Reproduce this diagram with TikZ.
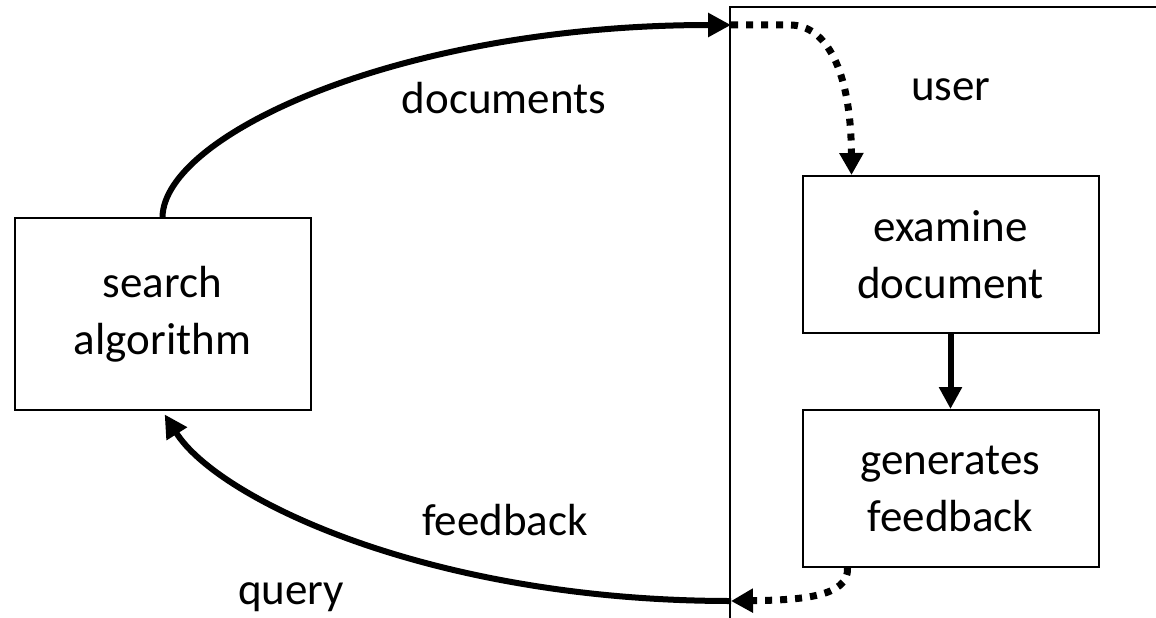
\documentclass[tikz,border=0pt]{standalone}
\usepackage{fontspec}
\setmainfont{Carlito}
\usetikzlibrary{arrows.meta}
\begin{document}
\begin{tikzpicture}[x=1pt,y=-1pt,
  box/.style={draw,line width=2pt,rectangle,minimum width=296pt,align=center,
    font=\fontsize{45}{57}\selectfont},
  lbl/.style={anchor=base,inner sep=0pt,font=\fontsize{45}{57}\selectfont},
  flow/.style={line width=6pt,-{Triangle[length=23pt,width=23pt]}},
  dotflow/.style={line width=7pt,dash pattern=on 7pt off 8pt,-{Triangle[length=22pt,width=23pt]}},
  frame/.style={line width=2pt}]
\useasboundingbox (0,0) rectangle (1156,618);
% user frame
\coordinate (fb) at (730,620);
\coordinate (ftl) at (730,7);
\coordinate (fr) at (1160,7);
\draw[frame] (fb) -- (ftl) -- (fr);
% boxes
\node[box,minimum height=192pt] (search) at (162.5,314) {search\\algorithm};
\node[box,minimum height=157pt] (examine) at (950.5,254.5) {examine\\document};
\node[box,minimum height=157pt] (generate) at (950.5,488.5) {generates\\feedback};
% labels
\node[lbl] (ldoc) at (504,113) {documents};
\node[lbl] (luser) at (951,100) {user};
\node[lbl] (lfb) at (505,535) {feedback};
\node[lbl] (lq) at (291,604) {query};
% connection points on the frame
\coordinate (docin) at (731,25);
\coordinate (qout) at (731,601);
\coordinate (exin) at ([xshift=-99pt]examine.north);
\coordinate (genout) at ([xshift=-103pt]generate.south);
% arrows
\draw[flow] (search.north) .. controls (164,135) and (400,25) .. (docin);
\draw[flow,shorten >=4pt] (qout) .. controls (430,601) and (218,499) .. (search.south);
\draw[dotflow] (docin) -- (790,25) .. controls (826,25) and (851,70) .. (exin);
\draw[dotflow] (genout) .. controls (849,597) and (800,600) .. (qout);
\draw[line width=6pt,-{Triangle[length=22pt,width=22pt]}] (examine) -- (generate);
\end{tikzpicture}
\end{document}
